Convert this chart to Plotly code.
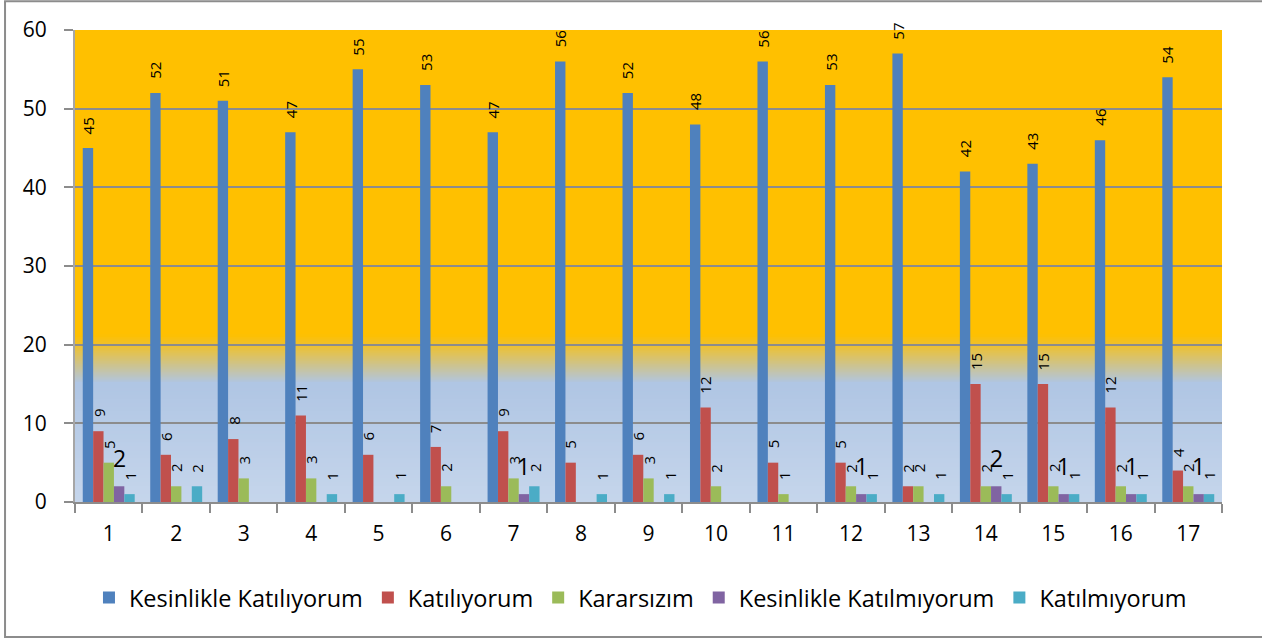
import plotly.graph_objects as go

categories = list(range(1, 18))
series_names = ["Kesinlikle Katılıyorum", "Katılıyorum", "Kararsızım",
                "Kesinlikle Katılmıyorum", "Katılmıyorum"]
kesinlikle_katiliyorum = [45, 52, 51, 47, 55, 53, 47, 56, 52, 48, 56, 53, 57, 42, 43, 46, 54]
katiliyorum = [9, 6, 8, 11, 6, 7, 9, 5, 6, 12, 5, 5, 2, 15, 15, 12, 4]
kararsizim = [5, 2, 3, 3, 0, 2, 3, 0, 3, 2, 1, 2, 2, 2, 2, 2, 2]
kesinlikle_katilmiyorum = [2, 0, 0, 0, 0, 0, 1, 0, 0, 0, 0, 1, 0, 2, 1, 1, 1]
katilmiyorum = [1, 2, 0, 1, 1, 0, 2, 1, 1, 0, 0, 1, 1, 1, 1, 1, 1]
y_ticks = [0, 10, 20, 30, 40, 50, 60]

series_values = [kesinlikle_katiliyorum, katiliyorum, kararsizim,
                 kesinlikle_katilmiyorum, katilmiyorum]
colors = ["#4F81BD", "#C0504D", "#9BBB59", "#8064A2", "#4BACC6"]

FONT = "Open Sans"
bar_w = 0.154
group_start = -2.5 * bar_w

fig = go.Figure()
annotations = []
for k, (name, vals, col) in enumerate(zip(series_names, series_values, colors)):
    off = group_start + k * bar_w
    fig.add_trace(go.Bar(
        x=categories, y=vals, name=name, offset=off, width=bar_w,
        marker=dict(color=col, line=dict(width=0)),
    ))
    for c, v in zip(categories, vals):
        if v == 0:
            continue
        xc = c + off + bar_w / 2
        if k == 3:
            annotations.append(dict(
                x=xc, y=v, xref="x", yref="y", text=str(v), showarrow=False,
                yanchor="bottom", xanchor="center", yshift=10,
                font=dict(family=FONT, size=23, color="black")))
        else:
            annotations.append(dict(
                x=xc, y=v, xref="x", yref="y", text=str(v), showarrow=False,
                textangle=-90, yanchor="bottom", xanchor="center", yshift=12,
                font=dict(family=FONT, size=15, color="black")))

# background: orange top, gradient to light blue below
shapes = []
orange = (255, 192, 0)
blue_top = (176, 198, 228)
blue_bot = (198, 214, 236)
shapes.append(dict(type="rect", xref="paper", yref="y", x0=0, x1=1, y0=21.2, y1=60,
                   fillcolor="rgb(255,192,0)", line=dict(width=0), layer="below"))
n = 30
lo, hi = 15.1, 21.2
for i in range(n):
    t = (i + 0.5) / n
    c = tuple(int(blue_top[j] + (orange[j] - blue_top[j]) * t) for j in range(3))
    shapes.append(dict(type="rect", xref="paper", yref="y", x0=0, x1=1,
                       y0=lo + (hi - lo) * i / n, y1=lo + (hi - lo) * (i + 1) / n + 0.15,
                       fillcolor="rgb(%d,%d,%d)" % c, line=dict(width=0), layer="below"))
lo, hi = 0, 15.1
for i in range(n):
    t = (i + 0.5) / n
    c = tuple(int(blue_bot[j] + (blue_top[j] - blue_bot[j]) * t) for j in range(3))
    shapes.append(dict(type="rect", xref="paper", yref="y", x0=0, x1=1,
                       y0=lo + (hi - lo) * i / n, y1=lo + (hi - lo) * (i + 1) / n + 0.15,
                       fillcolor="rgb(%d,%d,%d)" % c, line=dict(width=0), layer="below"))
# outer chart border
shapes.append(dict(type="rect", xref="paper", yref="paper", x0=-0.061, x1=1.045,
                   y0=-0.286, y1=1.061, line=dict(color="#8C8C8C", width=2),
                   fillcolor="rgba(0,0,0,0)", layer="above"))

fig.update_layout(
    width=1262, height=639,
    margin=dict(l=75, r=40, t=30, b=137),
    paper_bgcolor="white", plot_bgcolor="white",
    barmode="group",
    font=dict(family=FONT, size=21, color="black"),
    showlegend=True,
    legend=dict(orientation="h", x=0.493, xanchor="center", y=-0.203, yanchor="middle",
                font=dict(family=FONT, size=23.5), itemwidth=30, traceorder="normal"),
    shapes=shapes,
    annotations=annotations,
)
fig.update_xaxes(
    range=[0.5, 17.5], tickvals=categories, ticktext=[str(c) for c in categories],
    ticks="", showgrid=False, zeroline=False,
    showline=True, linecolor="#8C8C8C", linewidth=2,
    tickfont=dict(family=FONT, size=21), ticklabelstandoff=12,
    minor=dict(tickvals=[c - 0.5 for c in categories] + [17.5], ticks="outside",
               ticklen=9, tickcolor="#8C8C8C", tickwidth=2, showgrid=False),
)
fig.update_yaxes(
    range=[0, 60], tickvals=y_ticks, ticks="outside", ticklen=9,
    tickcolor="#8C8C8C", tickwidth=2,
    showgrid=True, gridcolor="#8C8C8C", gridwidth=2, zeroline=False,
    showline=True, linecolor="#A6A6A6", linewidth=2,
    tickfont=dict(family=FONT, size=21), ticklabelstandoff=13,
)
fig.write_html("out.html", config={"displayModeBar": False},
               post_script="document.body.style.margin='0';document.body.style.overflow='hidden';")
